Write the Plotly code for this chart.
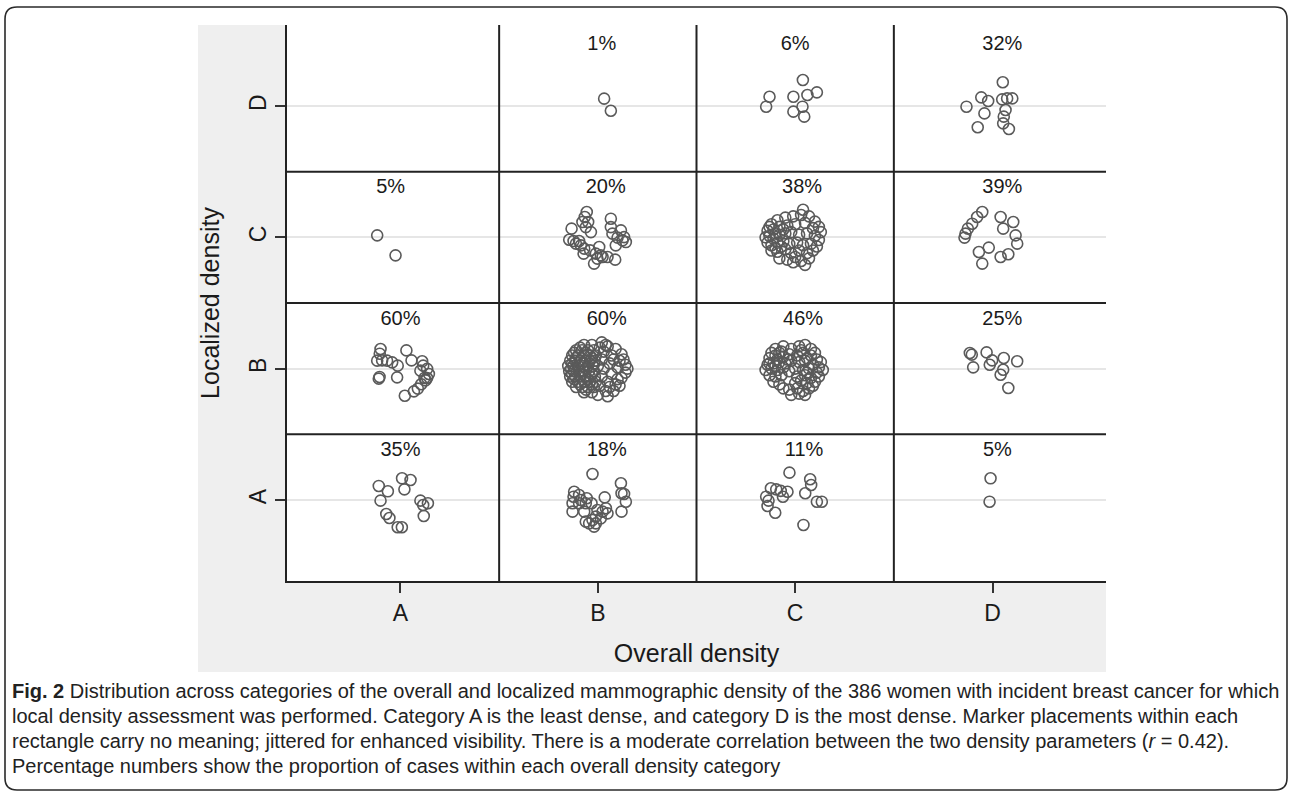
import plotly.graph_objects as go

categories = ["A", "B", "C", "D"]

# Jittered marker offsets (dx, dy) from the cell centre.
# Keyed by (overall density, localized density).
pts_A_A = [(-0.110, 0.107), (-0.064, 0.066), (-0.101, -0.005), (0.008, 0.165), (0.051, 0.152),
           (0.020, 0.081), (0.101, -0.005), (0.139, -0.025), (0.115, -0.038), (0.118, -0.122),
           (-0.072, -0.107), (-0.056, -0.137), (-0.014, -0.208), (0.007, -0.208)]
pts_A_B = [(-0.101, 0.150), (-0.105, 0.114), (-0.118, 0.061), (-0.093, 0.063), (-0.068, 0.061),
           (-0.042, 0.048), (-0.014, 0.023), (0.030, 0.139), (0.056, 0.063), (0.110, 0.056),
           (-0.106, -0.063), (-0.110, -0.076), (-0.017, -0.066), (0.101, -0.015), (0.135, -0.002),
           (0.144, -0.041), (0.122, -0.071), (0.127, -0.089), (0.105, -0.119), (0.088, -0.152),
           (0.068, -0.173), (0.022, -0.206), (0.115, 0.023), (0.135, -0.071)]
pts_A_C = [(-0.118, 0.015), (-0.025, -0.137)]
pts_B_A = [(-0.027, 0.198), (0.117, 0.127), (0.120, 0.051), (0.133, 0.046), (0.142, -0.013),
           (0.120, -0.089), (0.035, 0.020), (0.041, -0.063), (0.024, -0.089), (0.049, -0.102),
           (-0.002, -0.076), (-0.010, -0.127), (-0.027, -0.152), (-0.044, -0.178), (-0.061, -0.165),
           (-0.019, -0.203), (-0.069, -0.089), (-0.061, -0.025), (-0.056, 0.013), (-0.086, 0.000),
           (-0.120, 0.063), (-0.123, 0.025), (-0.128, -0.025), (-0.128, -0.089), (-0.095, -0.025),
           (-0.095, 0.038), (-0.032, -0.025), (0.015, -0.140), (-0.010, -0.178)]
pts_B_B = [(-0.07, 0.18), (-0.03, 0.18),
           (-0.11, 0.14), (-0.08, 0.14), (-0.05, 0.14), (-0.02, 0.14),
           (-0.13, 0.10), (-0.10, 0.10), (-0.07, 0.10), (-0.04, 0.10), (-0.01, 0.10),
           (-0.14, 0.06), (-0.115, 0.06), (-0.09, 0.06), (-0.065, 0.06), (-0.04, 0.06), (-0.015, 0.06),
           (-0.15, 0.02), (-0.125, 0.02), (-0.10, 0.02), (-0.075, 0.02), (-0.05, 0.02), (-0.025, 0.02), (0.00, 0.02),
           (-0.145, -0.02), (-0.12, -0.02), (-0.095, -0.02), (-0.07, -0.02), (-0.045, -0.02), (-0.02, -0.02),
           (-0.14, -0.06), (-0.115, -0.06), (-0.09, -0.06), (-0.065, -0.06), (-0.04, -0.06), (-0.015, -0.06),
           (-0.13, -0.10), (-0.10, -0.10), (-0.07, -0.10), (-0.04, -0.10), (-0.01, -0.10),
           (-0.11, -0.14), (-0.08, -0.14), (-0.05, -0.14), (-0.02, -0.14),
           (-0.07, -0.18), (-0.03, -0.18),
           (-0.12, 0.12), (-0.06, 0.12), (-0.11, 0.08), (-0.03, 0.08), (-0.13, 0.04), (-0.08, 0.04),
           (-0.02, 0.04), (-0.135, 0.00), (-0.06, 0.00), (-0.13, -0.04), (-0.08, -0.04), (-0.03, -0.04),
           (-0.12, -0.08), (-0.05, -0.08), (-0.09, -0.12), (-0.03, -0.12), (-0.09, 0.16), (-0.06, -0.16),
           (0.02, 0.20), (0.05, 0.17), (0.09, 0.15), (0.12, 0.11), (0.03, 0.13), (0.07, 0.10), (0.11, 0.06),
           (0.14, 0.03), (0.02, 0.07), (0.06, 0.04), (0.10, 0.01), (0.14, -0.03), (0.03, 0.00), (0.07, -0.04),
           (0.12, -0.07), (0.02, -0.06), (0.05, -0.10), (0.09, -0.12), (0.01, -0.13), (0.04, -0.17),
           (0.08, -0.17), (0.00, -0.20), (0.05, -0.21), (0.11, -0.13), (0.13, 0.07), (0.04, 0.18),
           (0.01, 0.16), (0.08, 0.07), (0.10, -0.08), (0.06, -0.14), (0.15, 0.00)]
pts_B_C = [(-0.056, 0.193), (-0.066, 0.155), (-0.078, 0.117), (-0.061, 0.078), (-0.035, 0.040),
           (-0.133, 0.066), (-0.145, -0.018), (-0.123, -0.028), (-0.111, -0.048), (-0.086, -0.061),
           (-0.069, -0.086), (-0.072, -0.124), (-0.019, -0.200), (-0.002, -0.162), (0.015, -0.137),
           (0.007, -0.074), (0.024, -0.150), (0.049, -0.150), (0.088, -0.170), (0.066, 0.142),
           (0.066, 0.078), (0.117, 0.053), (0.074, 0.028), (0.100, -0.002), (0.133, 0.002),
           (0.142, -0.036), (0.125, -0.023), (0.091, -0.061), (-0.010, -0.124), (-0.039, -0.099),
           (-0.095, -0.028), (-0.049, 0.117)]
pts_B_D = [(0.032, 0.056), (0.066, -0.036)]
pts_C_A = [(-0.029, 0.208), (0.076, 0.158), (0.081, 0.114), (0.051, 0.051), (-0.123, 0.089),
           (-0.096, 0.081), (-0.073, 0.069), (-0.039, 0.063), (-0.062, 0.025), (-0.147, 0.025),
           (-0.135, -0.005), (-0.140, -0.046), (-0.101, -0.097), (0.110, -0.013), (0.135, -0.013),
           (0.042, -0.190)]
pts_C_B = [(-0.10, 0.15), (-0.06, 0.17), (-0.02, 0.15), (0.02, 0.17), (0.05, 0.18), (0.08, 0.15), (-0.08, 0.12),
           (-0.13, 0.08), (-0.10, 0.10), (-0.06, 0.09), (-0.03, 0.11), (0.01, 0.10), (0.04, 0.12), (0.08, 0.10),
           (0.11, 0.07), (0.13, 0.05),
           (-0.14, 0.03), (-0.11, 0.04), (-0.08, 0.05), (-0.05, 0.04), (-0.02, 0.06), (0.02, 0.05), (0.05, 0.06),
           (0.09, 0.03), (0.12, 0.01),
           (-0.15, -0.01), (-0.12, 0.00), (-0.09, -0.01), (-0.06, 0.01), (-0.03, -0.02), (0.00, 0.00), (0.04, -0.01),
           (0.07, 0.00), (0.11, -0.03), (0.14, -0.01),
           (-0.13, -0.05), (-0.10, -0.06), (-0.07, -0.05), (0.01, -0.06), (0.05, -0.05), (0.08, -0.07), (0.12, -0.06),
           (-0.11, -0.10), (-0.08, -0.12), (0.00, -0.11), (0.03, -0.09), (0.06, -0.11), (0.10, -0.10),
           (-0.06, -0.15), (-0.03, -0.16), (0.01, -0.15), (0.04, -0.17), (0.07, -0.15), (0.09, -0.13),
           (-0.02, -0.20), (0.02, -0.19), (0.05, -0.20),
           (-0.12, 0.12), (-0.09, 0.07), (-0.07, 0.13), (-0.04, 0.07), (0.03, 0.14), (0.06, 0.08), (0.10, 0.12),
           (-0.13, 0.04), (0.06, -0.03), (-0.10, 0.02)]
pts_C_C = [(-0.12, 0.10), (-0.09, 0.13), (-0.05, 0.15), (-0.01, 0.16), (0.03, 0.17), (0.07, 0.16), (0.04, 0.21),
           (0.10, 0.12), (0.12, 0.08),
           (-0.14, 0.05), (-0.11, 0.06), (-0.08, 0.08), (-0.04, 0.09), (0.00, 0.10), (0.05, 0.11), (0.09, 0.07),
           (0.13, 0.04),
           (-0.15, 0.00), (-0.13, 0.01), (-0.11, -0.01), (-0.08, 0.02), (-0.05, 0.03), (-0.02, 0.04), (0.02, 0.02),
           (0.06, 0.03), (0.10, 0.01), (0.12, -0.02),
           (-0.14, -0.04), (-0.12, -0.06), (-0.09, -0.04), (-0.06, -0.03), (-0.03, -0.05), (0.01, -0.04),
           (0.04, -0.06), (0.08, -0.05), (0.11, -0.07),
           (-0.12, -0.10), (-0.09, -0.11), (-0.05, -0.09), (-0.02, -0.12), (0.02, -0.10), (0.06, -0.12), (0.09, -0.10),
           (-0.08, -0.16), (-0.04, -0.17), (0.00, -0.15), (0.03, -0.18), (0.07, -0.16), (0.05, -0.21), (-0.01, -0.19),
           (-0.10, 0.03), (-0.07, -0.07), (-0.13, 0.08), (-0.06, 0.06), (-0.10, -0.08)]
pts_C_D = [(0.039, 0.198), (-0.130, 0.071), (-0.147, -0.005), (-0.009, 0.071), (0.062, 0.084),
           (0.110, 0.104), (0.037, -0.005), (-0.009, -0.043), (0.046, -0.081)]
pts_D_A = [(-0.010, 0.165), (-0.015, -0.013)]
pts_D_B = [(-0.115, 0.119), (-0.105, 0.107), (-0.030, 0.124), (-0.002, 0.063), (-0.014, 0.030),
           (0.057, 0.081), (0.125, 0.056), (0.054, -0.008), (0.041, -0.046), (-0.098, 0.010),
           (0.080, -0.147)]
pts_D_C = [(-0.052, 0.193), (-0.078, 0.155), (-0.103, 0.104), (-0.125, 0.066), (-0.137, 0.028),
           (-0.142, -0.002), (0.041, 0.155), (0.105, 0.117), (0.054, 0.066), (0.117, 0.015),
           (0.125, -0.048), (-0.069, -0.112), (-0.019, -0.078), (-0.052, -0.200), (0.041, -0.150),
           (0.080, -0.129)]
pts_D_D = [(0.052, 0.181), (-0.057, 0.066), (-0.022, 0.038), (-0.132, -0.005), (-0.041, -0.056),
           (0.049, 0.051), (0.074, 0.058), (0.100, 0.058), (0.066, -0.030), (0.057, -0.081),
           (0.054, -0.132), (0.083, -0.175), (-0.075, -0.162)]

cells = {
    ("A", "A"): pts_A_A, ("A", "B"): pts_A_B, ("A", "C"): pts_A_C,
    ("B", "A"): pts_B_A, ("B", "B"): pts_B_B, ("B", "C"): pts_B_C, ("B", "D"): pts_B_D,
    ("C", "A"): pts_C_A, ("C", "B"): pts_C_B, ("C", "C"): pts_C_C, ("C", "D"): pts_C_D,
    ("D", "A"): pts_D_A, ("D", "B"): pts_D_B, ("D", "C"): pts_D_C, ("D", "D"): pts_D_D,
}

# Percentage labels (share within each overall density category)
pct_overall = ["B", "C", "D", "A", "B", "C", "D", "A", "B", "C", "D", "A", "B", "C", "D"]
pct_local = ["D", "D", "D", "C", "C", "C", "C", "B", "B", "B", "B", "A", "A", "A", "A"]
pct_text = ["1%", "6%", "32%", "5%", "20%", "38%", "39%", "60%", "60%", "46%", "25%",
            "35%", "18%", "11%", "5%"]
pct_dx = [0.02, 0.0, 0.05, -0.05, 0.04, 0.035, 0.05, 0.0, 0.045, 0.04, 0.05, 0.0, 0.045, 0.045, 0.025]

pos = {c: i + 1 for i, c in enumerate(categories)}

xs, ys = [], []
for (ov, lo), pts in cells.items():
    for dx, dy in pts:
        xs.append(pos[ov] + dx)
        ys.append(pos[lo] + dy)

fig = go.Figure()
fig.add_trace(go.Scatter(
    x=xs, y=ys, mode="markers", showlegend=False, hoverinfo="skip",
    marker=dict(symbol="circle-open", size=11, color="#5a5a5a", line=dict(width=1.6)),
))

lab_x = [pos[o] + d for o, d in zip(pct_overall, pct_dx)]
lab_y = [pos[l] + (0.465 if l == "D" else 0.372) for l in pct_local]
fig.add_trace(go.Scatter(
    x=lab_x, y=lab_y, mode="text", text=pct_text, showlegend=False, hoverinfo="skip",
    textfont=dict(family="Liberation Sans, Arial, sans-serif", size=20, color="#1a1a1a"),
))

# page geometry (body margin is removed below, so figure pixels = page pixels)
W, H = 1292, 797
L, R, T, B = 287, 1106, 25, 581   # plot area


def fx(px):
    return (px - L) / (R - L)


def fy(py):
    return (B - py) / (B - T)


shapes = []
# grey background panel around the plot
shapes.append(dict(type="rect", xref="paper", yref="paper", x0=fx(198), x1=fx(1106), y0=fy(672), y1=fy(25),
                   fillcolor="#efefef", line=dict(width=0), layer="below"))
shapes.append(dict(type="rect", xref="paper", yref="paper", x0=0, x1=1, y0=0, y1=1,
                   fillcolor="white", line=dict(width=0), layer="below"))
# outer rounded frame
x0, x1, y0, y1, r = 5, 1287, 7, 790, 12
path = (f"M {fx(x0 + r)},{fy(y0)} L {fx(x1 - r)},{fy(y0)} Q {fx(x1)},{fy(y0)} {fx(x1)},{fy(y0 + r)} "
        f"L {fx(x1)},{fy(y1 - r)} Q {fx(x1)},{fy(y1)} {fx(x1 - r)},{fy(y1)} "
        f"L {fx(x0 + r)},{fy(y1)} Q {fx(x0)},{fy(y1)} {fx(x0)},{fy(y1 - r)} "
        f"L {fx(x0)},{fy(y0 + r)} Q {fx(x0)},{fy(y0)} {fx(x0 + r)},{fy(y0)} Z")
shapes.append(dict(type="path", xref="paper", yref="paper", path=path, line=dict(color="#2a2a2a", width=1.6)))
# cell separators
for b in [1.5, 2.5, 3.5]:
    shapes.append(dict(type="line", xref="x", yref="paper", x0=b, x1=b, y0=0, y1=1,
                       line=dict(color="#222222", width=2)))
    shapes.append(dict(type="line", xref="paper", yref="y", x0=0, x1=1, y0=b, y1=b,
                       line=dict(color="#222222", width=2)))

caption_lines = [
    "<b>Fig. 2</b> Distribution across categories of the overall and localized mammographic density of the 386 women with incident breast cancer for which",
    "local density assessment was performed. Category A is the least dense, and category D is the most dense. Marker placements within each",
    "rectangle carry no meaning; jittered for enhanced visibility. There is a moderate correlation between the two density parameters (<i>r</i> = 0.42).",
    "Percentage numbers show the proportion of cases within each overall density category",
]
caption_y = [691, 716, 741, 766]
annotations = []
for t, py in zip(caption_lines, caption_y):
    annotations.append(dict(text=t, xref="paper", yref="paper", x=fx(10), y=fy(py), xanchor="left",
                            yanchor="middle", showarrow=False,
                            font=dict(family="Liberation Sans, Arial, sans-serif", size=20,
                                      color="#222222")))

fig.update_layout(
    width=W, height=H,
    margin=dict(l=L, r=W - R, t=T, b=H - B),
    paper_bgcolor="white", plot_bgcolor="white",
    shapes=shapes, annotations=annotations,
    xaxis=dict(range=[0.425, 4.575], tickmode="array", tickvals=[1, 2, 3, 4], ticktext=categories,
               showgrid=False, zeroline=False, showline=True, linecolor="#222222", linewidth=2,
               ticks="outside", ticklen=10, tickwidth=1.5, tickcolor="#333333",
               tickfont=dict(family="Liberation Sans, Arial, sans-serif", size=23, color="#1a1a1a"),
               title=dict(text="Overall density", standoff=20,
                          font=dict(family="Liberation Sans, Arial, sans-serif", size=25, color="#1a1a1a"))),
    yaxis=dict(range=[0.383, 4.617], tickmode="array", tickvals=[1, 2, 3, 4], ticktext=categories,
               showgrid=True, gridcolor="#e6e6e6", gridwidth=1.5, zeroline=False,
               showline=True, linecolor="#222222", linewidth=2,
               ticks="outside", ticklen=10, tickwidth=1.5, tickcolor="#333333", tickangle=-90,
               tickfont=dict(family="Liberation Sans, Arial, sans-serif", size=23, color="#1a1a1a"),
               title=dict(text="Localized density", standoff=18,
                          font=dict(family="Liberation Sans, Arial, sans-serif", size=25, color="#1a1a1a"))),
)

fig.write_html("out.html", config={"displayModeBar": False},
               post_script="document.body.style.margin='0';document.body.style.overflow='hidden';")
